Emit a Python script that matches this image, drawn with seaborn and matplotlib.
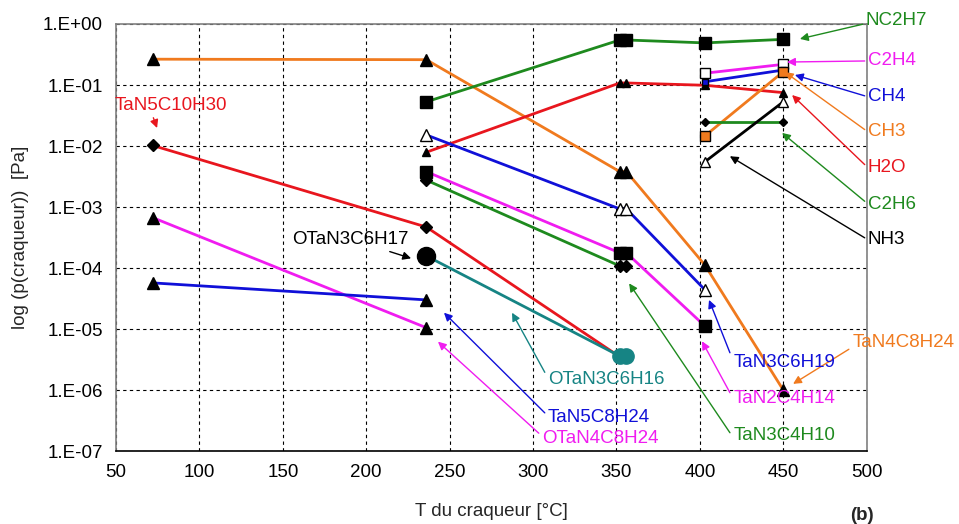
#!/usr/bin/env python3
"""
Cracker partial pressures vs cracker temperature (log scale), panel (b).
"""
import numpy as np
import pandas as pd
import matplotlib
matplotlib.use('Agg')
import matplotlib.pyplot as plt
import matplotlib.ticker as mticker
import seaborn as sns

# Data: temperature [degC] and pressure [Pa] per species
T_tan4c8h24 = [72, 236, 352, 356, 403, 450]
p_tan4c8h24 = [0.265, 0.26, 3.8e-3, 3.8e-3, 1.12e-4, 1.0e-6]

T_tan5c10h30 = [72, 236, 352]
p_tan5c10h30 = [1.02e-2, 4.7e-4, 3.5e-6]

T_h2o = [236, 352, 356, 403, 450]
p_h2o = [7.9e-3, 0.108, 0.108, 0.099, 0.075]

T_nc2h7 = [236, 352, 356, 403, 450]
p_nc2h7 = [0.053, 0.547, 0.547, 0.49, 0.56]

T_tan3c6h19 = [236, 352, 356, 403]
p_tan3c6h19 = [0.0152, 9.3e-4, 9.3e-4, 4.4e-5]

T_tan2c4h14 = [236, 352, 356, 403]
p_tan2c4h14 = [3.8e-3, 1.77e-4, 1.77e-4, 1.12e-5]

T_tan3c4h10 = [236, 352, 356]
p_tan3c4h10 = [2.76e-3, 1.08e-4, 1.08e-4]

T_otan4c8h24 = [72, 236]
p_otan4c8h24 = [6.7e-4, 1.05e-5]

T_tan5c8h24 = [72, 236]
p_tan5c8h24 = [5.7e-5, 3.0e-5]

T_otan3c6h16 = [236, 352, 356]
p_otan3c6h16 = [1.58e-4, 3.6e-6, 3.6e-6]

T_otan3c6h17 = [236]
p_otan3c6h17 = [1.58e-4]

T_c2h4 = [403, 450]
p_c2h4 = [0.156, 0.218]

T_ch4 = [403, 450]
p_ch4 = [0.113, 0.176]

T_ch3 = [403, 450]
p_ch3 = [0.0146, 0.165]

T_c2h6 = [403, 450]
p_c2h6 = [0.025, 0.025]

T_nh3 = [403, 450]
p_nh3 = [5.5e-3, 0.053]

x_ticks = [50, 100, 150, 200, 250, 300, 350, 400, 450, 500]
y_ticks = [1e-7, 1e-6, 1e-5, 1e-4, 1e-3, 1e-2, 1e-1, 1e0]

ORANGE = '#F07A1E'
RED = '#E8161E'
GREEN = '#1E8A1E'
BLUE = '#1010D8'
MAGENTA = '#F01CF0'
TEAL = '#168484'
BLACK = '#000000'

sns.set_style("white")
plt.rcParams['font.family'] = ['Liberation Sans', 'DejaVu Sans']
plt.rcParams['font.size'] = 13.5

fig = plt.figure(figsize=(9.59, 5.24), dpi=100)
ax = fig.add_axes([0.121, 0.1393, 0.7827, 0.8149])


def draw(T, p, color, marker, ms=8, mfc='k', mec='k', lw=2.0, z=3):
    df = pd.DataFrame({'T': T, 'p': p})
    sns.lineplot(data=df, x='T', y='p', color=color, lw=lw, marker=marker,
                 markersize=ms, markerfacecolor=mfc, markeredgecolor=mec,
                 markeredgewidth=1.0, estimator=None, sort=False,
                 legend=False, ax=ax, zorder=z)


draw(T_tan4c8h24, p_tan4c8h24, ORANGE, '^', ms=8)
draw(T_tan5c10h30, p_tan5c10h30, RED, 'D', ms=6)
draw(T_h2o, p_h2o, RED, '^', ms=6)
draw(T_nc2h7, p_nc2h7, GREEN, 's', ms=9)
draw(T_tan3c6h19, p_tan3c6h19, BLUE, '^', ms=8, mfc='white')
draw(T_tan2c4h14, p_tan2c4h14, MAGENTA, 's', ms=8)
draw(T_tan3c4h10, p_tan3c4h10, GREEN, 'D', ms=6)
draw(T_otan4c8h24, p_otan4c8h24, MAGENTA, '^', ms=8)
draw(T_tan5c8h24, p_tan5c8h24, BLUE, '^', ms=8)
draw(T_otan3c6h16, p_otan3c6h16, TEAL, 'o', ms=11, mfc=TEAL, mec=TEAL)
draw(T_otan3c6h17, p_otan3c6h17, BLACK, 'o', ms=13, z=4)
draw(T_c2h4, p_c2h4, MAGENTA, 's', ms=7, mfc='white')
draw(T_ch4, p_ch4, BLUE, 's', ms=5, mfc=BLUE)
draw(T_ch3, p_ch3, ORANGE, 's', ms=7, mfc=ORANGE)
draw(T_c2h6, p_c2h6, GREEN, 'D', ms=4)
draw(T_nh3, p_nh3, BLACK, '^', ms=7, mfc='white')

ax.set_yscale('log')
ax.set_xlim(50, 500)
ax.set_ylim(1e-7, 1e0)
ax.set_xticks(x_ticks)
ax.set_yticks(y_ticks)
ax.yaxis.set_major_formatter(mticker.FuncFormatter(
    lambda v, pos: f"1.E{int(round(np.log10(v))):+03d}"))
ax.yaxis.set_minor_locator(mticker.NullLocator())
ax.tick_params(direction='out', length=6, width=1, colors='k', labelsize=13.5)
ax.grid(True, which='major', color='k', linestyle=(0, (3, 3)), lw=0.8)
for side in ['left', 'top', 'right']:
    ax.spines[side].set_color('#808080')
ax.spines['bottom'].set_color('k')
for s in ax.spines.values():
    s.set_linewidth(1.2)

ax.set_xlabel('T du craqueur [°C]', fontsize=13.5, labelpad=16)
ax.set_ylabel('log (p(craqueur))  [Pa]', fontsize=13.5, labelpad=10)

# labels with arrows: text, text pos, arrow tip, colour, arrow start on text
notes = [
    ('NC2H7', (499.6, 1.16), (460, 0.57), GREEN, (0, 0.3)),
    ('C2H4', (500.8, 0.248), (452.3, 0.238), MAGENTA, (0, 0.5)),
    ('CH4', (500.8, 0.064), (457, 0.146), BLUE, (0, 0.5)),
    ('CH3', (500.8, 0.0170), (451, 0.163), ORANGE, (0, 0.5)),
    ('H2O', (500.8, 4.4e-3), (455.3, 0.0685), RED, (0, 0.5)),
    ('C2H6', (500.8, 1.12e-3), (449.3, 0.0164), GREEN, (0, 0.5)),
    ('NH3', (500.8, 2.9e-4), (418, 6.8e-3), BLACK, (0, 0.5)),
    ('TaN4C8H24', (491.3, 5.9e-6), (455.9, 1.26e-6), ORANGE, (0, 0.25)),
    ('TaN3C6H19', (420, 2.8e-6), (405.5, 3.0e-5), BLUE, (0, 0.6)),
    ('TaN2C4H14', (420, 7.2e-7), (401.3, 6.3e-6), MAGENTA, (0, 0.5)),
    ('TaN3C4H10', (420, 1.77e-7), (357.6, 5.6e-5), GREEN, (0, 0.4)),
    ('OTaN3C6H16', (309, 1.46e-6), (287.4, 1.85e-5), TEAL, (0, 0.6)),
    ('TaN5C8H24', (309, 3.5e-7), (246.6, 1.85e-5), BLUE, (0, 0.6)),
    ('OTaN4C8H24', (305.4, 1.63e-7), (243, 6.2e-6), MAGENTA, (0.05, 0.3)),
    ('OTaN3C6H17', (155.5, 2.9e-4), (226.9, 1.44e-4), BLACK, (0.75, 0.0)),
    ('TaN5C10H30', (49.4, 0.0453), (74.6, 0.0197), RED, (0.33, 0.0)),
]
for txt, xyt, tip, col, rp in notes:
    ax.annotate(txt, xy=tip, xytext=xyt, color=col, fontsize=13.5,
                ha='left', va='center', annotation_clip=False, zorder=5,
                arrowprops=dict(arrowstyle='-|>', color=col, lw=1.0,
                                mutation_scale=12, shrinkA=0, shrinkB=0,
                                relpos=rp))

fig.text(0.899, 0.017, '(b)', fontsize=13.5, fontweight='bold',
         ha='center', va='center')

fig.savefig('out.png', dpi=100)
plt.close('all')
